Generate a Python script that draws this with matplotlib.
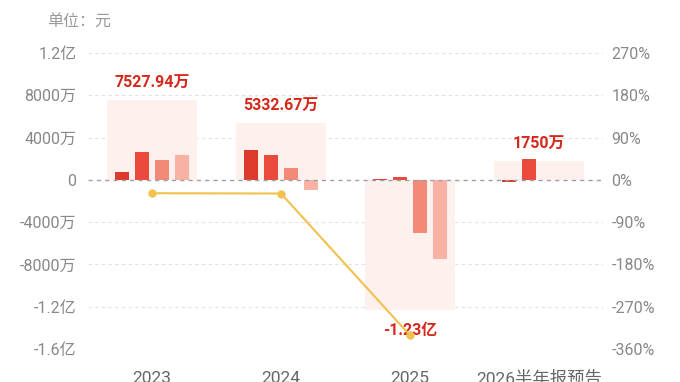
import matplotlib.pyplot as plt
import numpy as np

plt.rcParams['font.family'] = ['Roboto', 'Noto Sans CJK SC', 'DejaVu Sans']

# dados (unidade: 万元)
categorias = ['2023', '2024', '2025', '2026半年报预告']
totais = [7527.94, 5332.67, -12300, 1750]
rotulos = ['7527.94万', '5332.67万', '-1.23亿', '1750万']
q1 = [720, 2820, 50, -200]
q2 = [2610, 2320, 220, 1950]
q3 = [1830, 1150, -5070, np.nan]
q4 = [2368, -957, -7500, np.nan]
crescimento = [-28.5, -29.16, -330.66]  # %

yticks = [12000, 8000, 4000, 0, -4000, -8000, -12000, -16000]
ylabels = ['1.2亿', '8000万', '4000万', '0', '-4000万', '-8000万', '-1.2亿', '-1.6亿']
ryticks = [270, 180, 90, 0, -90, -180, -270, -360]

cores = ['#dc3a2a', '#ea4a3b', '#f28a77', '#f9b1a4']

fig = plt.figure(figsize=(6.8, 3.82), dpi=100)
ax = fig.add_axes([0.129, 0.0864, 0.758, 0.775])
x = np.arange(len(categorias))

# barras de fundo (total)
ax.bar(x, totais, width=0.7, color='#fef0ec', zorder=1)

# barras trimestrais
w = 0.11
offs = [-0.233, -0.078, 0.078, 0.233]
for serie, off, cor in zip([q1, q2, q3, q4], offs, cores):
    ax.bar(x + off, serie, width=w, color=cor, zorder=2)

# grelha
for t in yticks:
    if t == 0:
        ax.axhline(0, color='#a0a0a0', lw=1, ls=(0, (3, 3)), zorder=3)
    else:
        ax.axhline(t, color='#e2e2e2', lw=0.8, ls=(0, (3, 3)), zorder=0)

# rotulos dos totais
for xi, tot, lab in zip(x, totais, rotulos):
    off = 13 if tot > 0 else -15
    ax.annotate(lab, (xi, tot), xytext=(0, off), textcoords='offset points',
                ha='center', va='center', color='#d5291c', fontsize=11.5,
                fontweight='bold', zorder=5)

ax.set_xlim(-0.5, 3.5)
ax.set_ylim(-16000, 12000)
ax.set_yticks(yticks)
ax.set_yticklabels(ylabels)
ax.set_xticks(x)
ax.set_xticklabels(categorias)
ax.tick_params(axis='y', length=0, labelsize=11.5, labelcolor='#888888', pad=8)
ax.tick_params(axis='x', length=0, labelsize=12.5, labelcolor='#666666', pad=16)
for s in ax.spines.values():
    s.set_visible(False)

# eixo direito: crescimento
ax2 = ax.twinx()
ax2.plot(x[:3], crescimento, color='#f2c14e', lw=1.5, marker='o',
         markersize=5, zorder=4)
ax2.set_ylim(-360, 270)
ax2.set_yticks(ryticks)
ax2.set_yticklabels([f'{t}%' for t in ryticks])
ax2.tick_params(axis='y', length=0, labelsize=11.5, labelcolor='#888888', pad=6)
for s in ax2.spines.values():
    s.set_visible(False)

fig.text(0.069, 0.945, '单位：元', color='#999999', fontsize=11.5, va='center')

fig.savefig('out.png', dpi=100)
